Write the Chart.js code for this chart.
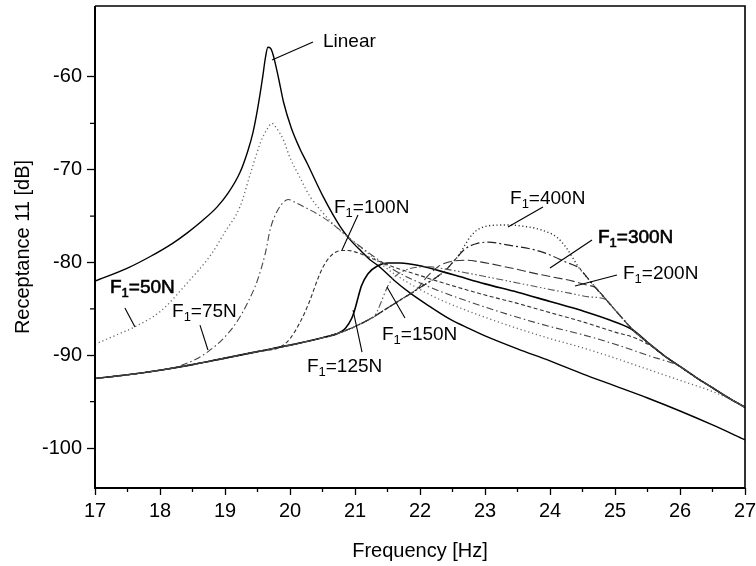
<!DOCTYPE html>
<html><head><meta charset="utf-8">
<script src="https://cdn.jsdelivr.net/npm/chart.js@4"></script>
<style>html,body{margin:0;padding:0;background:#fff}canvas{display:block}</style>
</head><body>
<canvas id="c" width="756" height="566"></canvas>
<script>
// ---- axis ticks ----
const xTicks = [17,18,19,20,21,22,23,24,25,26,27];
const xMinorTicks = [17.5,18.5,19.5,20.5,21.5,22.5,23.5,24.5,25.5,26.5];
const yTicks = [-100,-90,-80,-70,-60];
const yMinorTicks = [-95,-85,-75,-65];

// ---- shared lower (left) branch ----
const lbX = [17.0,17.5,18.0,18.5,19.0,19.5,20.0,20.5,20.75,21.0,21.25,21.5,21.75,22.0,22.25,22.35];
const lbY = [-92.5,-92.1,-91.6,-91.0,-90.3,-89.6,-88.9,-88.1,-87.6,-86.9,-86.0,-84.9,-83.8,-82.7,-81.6,-81.1];
// ---- shared right envelope ----
const reX = [24.45,24.57,24.7,24.85,25.0,25.15,25.28,25.5,25.75,26.0,26.25,26.5,26.75,27.0];
const reY = [-80.6,-81.6,-82.7,-83.9,-85.1,-86.3,-87.3,-88.6,-90.0,-91.2,-92.4,-93.5,-94.6,-95.6];

// ---- Linear ----
const linX = [17.0,17.5,17.85,18.2,18.42,18.65,18.88,19.05,19.23,19.35,19.43,19.5,19.58,19.62,19.66,19.7,19.74,19.82,19.9,20.02,20.15,20.26,20.51,20.77,20.92,21.1,21.23,21.35,21.6,21.85,22.1,22.46,22.75,23.0,23.5,24.0,24.5,25.0,25.5,26.0,26.5,27.0];
const linY = [-82.0,-80.6,-79.35,-77.9,-76.8,-75.5,-74.0,-72.5,-70.3,-68.0,-66.0,-63.5,-60.0,-58.0,-56.8,-56.9,-57.6,-60.0,-62.7,-65.5,-67.7,-69.25,-72.9,-76.1,-77.5,-78.8,-79.7,-80.3,-81.9,-83.3,-84.5,-86.1,-87.1,-87.9,-89.3,-90.6,-92.0,-93.3,-94.6,-96.0,-97.5,-99.1];

// ---- F1 = 50 N ----
const f50X = [17.0,17.3,17.62,18.0,18.42,18.8,19.0,19.23,19.4,19.55,19.65,19.72,19.8,19.9,20.0,20.15,20.3,20.5,20.7,20.88,21.2,21.6,22.0,22.31,23.0,23.5,24.0,24.46,25.0,25.5,26.0,26.5,26.82];
const f50Y = [-88.8,-87.9,-86.9,-85.3,-82.2,-79.0,-76.7,-74.0,-70.2,-67.0,-65.6,-65.0,-65.6,-66.8,-68.7,-70.8,-72.8,-74.6,-76.1,-77.2,-79.0,-81.2,-82.9,-84.0,-85.9,-87.1,-88.2,-89.1,-90.3,-91.5,-92.7,-93.9,-94.9];
// ---- F1 = 75 N ----
const f75X = [18.2,18.5,18.74,19.0,19.2,19.35,19.5,19.62,19.7,19.8,19.9,19.97,20.1,20.3,20.5,20.7,20.92,21.2,21.6,22.0,22.31,23.0,23.5,24.0,24.46,25.0,25.5,26.0];
const f75Y = [-91.35,-90.6,-89.6,-88.0,-86.2,-84.3,-81.9,-79.0,-76.3,-74.5,-73.5,-73.2,-73.6,-74.3,-75.1,-76.1,-77.4,-78.9,-80.8,-82.2,-83.1,-84.8,-85.9,-86.9,-87.7,-88.8,-90.0,-91.2];
// ---- F1 = 100 N ----
const f100X = [19.85,20.0,20.15,20.3,20.42,20.5,20.6,20.7,20.8,20.9,21.0,21.31,21.6,22.0,22.31,23.0,23.5,24.0,24.46,25.0,25.3,25.6];
const f100Y = [-89.1,-88.2,-86.5,-84.2,-81.9,-80.6,-79.5,-78.9,-78.7,-78.7,-78.85,-79.7,-80.5,-81.4,-82.1,-83.5,-84.4,-85.4,-86.3,-87.5,-88.1,-89.2];
// ---- F1 = 125 N ----
const f125X = [20.75,20.85,20.95,21.0,21.05,21.1,21.2,21.35,21.5,21.7,22.0,22.5,23.0,23.5,24.0,24.5,25.0,25.28];
const f125Y = [-87.6,-87.1,-86.0,-85.0,-83.7,-82.5,-81.2,-80.35,-80.05,-80.05,-80.35,-81.3,-82.3,-83.2,-84.2,-85.2,-86.4,-87.3];
// ---- F1 = 150 N ----
const f150X = [21.3,21.4,21.5,21.6,21.75,21.95,22.15,22.31,22.7,23.0,23.5,24.0,24.3,24.6,24.85];
const f150Y = [-85.8,-84.3,-82.6,-81.6,-80.9,-80.5,-80.45,-80.6,-81.1,-81.5,-82.2,-82.9,-83.3,-83.7,-83.95];
// ---- F1 = 200 N ----
const f200X = [21.95,22.1,22.2,22.31,22.5,22.7,22.9,23.34,23.85,24.35,24.55,24.7];
const f200Y = [-82.9,-81.6,-80.9,-80.3,-79.85,-79.75,-79.9,-80.5,-81.3,-82.0,-82.4,-82.7];
// ---- F1 = 300 N ----
const f300X = [22.3,22.4,22.5,22.6,22.7,22.85,23.05,23.34,23.85,24.26,24.45];
const f300Y = [-81.35,-80.8,-80.0,-79.2,-78.5,-78.0,-77.8,-78.1,-78.8,-80.0,-80.6];
// ---- F1 = 400 N ----
const f400X = [22.3,22.4,22.5,22.6,22.7,22.8,22.9,23.1,23.35,23.6,23.85,24.11,24.25,24.35,24.45];
const f400Y = [-81.35,-80.8,-80.0,-79.2,-78.0,-77.0,-76.4,-76.0,-75.95,-76.1,-76.45,-77.3,-78.4,-79.5,-80.6];

function pts(xs, ys){ return xs.map((x,i)=>({x:x, y:ys[i]})); }
function curve(ownX, ownY, useLB, useRE){
  let p = [];
  if (useLB) p = p.concat(pts(lbX,lbY).filter(q => q.x < ownX[0]-1e-9));
  p = p.concat(pts(ownX, ownY));
  if (useRE) p = p.concat(pts(reX,reY).filter(q => q.x > ownX[ownX.length-1]+1e-9));
  return p;
}
function ds(data, color, width, dash){
  return {data:data, showLine:true, borderColor:color, borderWidth:width, borderDash:dash,
    pointRadius:0, fill:false, cubicInterpolationMode:'monotone', borderCapStyle:'butt'};
}

const datasets = [
  ds(curve(f50X,f50Y,false,true), '#666', 1.3, [1.2,2.8]),
  ds(curve(f75X,f75Y,true,true), '#444', 1.1, [7,3,1.5,3]),
  ds(curve(f100X,f100Y,true,true), '#333', 1.1, [4,2.5]),
  ds(curve(f150X,f150Y,true,true), '#555', 1.1, [7,2.5,1.5,2.5,1.5,2.5]),
  ds(curve(f200X,f200Y,true,true), '#333', 1.1, [9,3.5]),
  ds(curve(f300X,f300Y,true,true), '#222', 1.2, [9,3,2,3]),
  ds(curve(f400X,f400Y,true,true), '#333', 1.4, [1.2,2.5]),
  ds(curve(f125X,f125Y,true,true), '#000', 1.6, []),
  ds(pts(linX,linY), '#000', 1.4, [])
];

const FONT = '"Liberation Sans", Arial, Helvetica, sans-serif';

const annotations = [
  {pre:'Linear', sub:'', post:'', at:[20.508,-56.23], line:[20.354,-56.23,19.723,-58.17]},
  {pre:'F', sub:'1', post:'=100N', at:[20.677,-74.12], line:[21.046,-74.88,20.80,-78.65]},
  {pre:'F', sub:'1', post:'=400N', at:[23.385,-73.15], line:[23.892,-74.02,23.354,-76.17]},
  {pre:'F', sub:'1', post:'=300N', at:[24.738,-77.36], line:[24.646,-77.57,24.0,-80.59], bold:true},
  {pre:'F', sub:'1', post:'=200N', at:[25.123,-81.24], line:[25.03,-81.35,24.385,-82.53]},
  {pre:'F', sub:'1', post:'=50N', at:[17.231,-82.75], line:[17.46,-84.9,17.615,-86.95], bold:true},
  {pre:'F', sub:'1', post:'=75N', at:[18.185,-85.34], line:[18.615,-86.74,18.738,-89.43]},
  {pre:'F', sub:'1', post:'=125N', at:[20.26,-91.27], line:[21.108,-89.65,20.97,-85.12]},
  {pre:'F', sub:'1', post:'=150N', at:[21.415,-87.82], line:[21.769,-85.98,21.492,-82.64]}
];

const decor = {
  id:'decor',
  afterDatasetsDraw(chart){
    const {ctx, chartArea:a, scales:{x,y}} = chart;
    ctx.save();
    ctx.strokeStyle = '#000';
    ctx.lineWidth = 1.6;
    ctx.beginPath();
    ctx.moveTo(a.left, a.top); ctx.lineTo(a.right, a.top); ctx.lineTo(a.right, a.bottom);
    ctx.stroke();
    ctx.lineWidth = 2;
    ctx.beginPath();
    ctx.moveTo(a.left, a.top); ctx.lineTo(a.left, a.bottom); ctx.lineTo(a.right, a.bottom);
    ctx.stroke();
    ctx.lineWidth = 1.3;
    ctx.beginPath();
    xMinorTicks.forEach(v => { const p = x.getPixelForValue(v); ctx.moveTo(p, a.bottom); ctx.lineTo(p, a.bottom+4); });
    yMinorTicks.forEach(v => { const p = y.getPixelForValue(v); ctx.moveTo(a.left, p); ctx.lineTo(a.left-5, p); });
    ctx.stroke();
    ctx.lineWidth = 1.1;
    annotations.forEach(an => {
      const l = an.line;
      ctx.beginPath();
      ctx.moveTo(x.getPixelForValue(l[0]), y.getPixelForValue(l[1]));
      ctx.lineTo(x.getPixelForValue(l[2]), y.getPixelForValue(l[3]));
      ctx.stroke();
      let px = x.getPixelForValue(an.at[0]);
      const py = y.getPixelForValue(an.at[1]);
      ctx.fillStyle = '#000';
      ctx.textBaseline = 'middle';
      ctx.textAlign = 'left';
      const parts = [[an.pre,19,0],[an.sub,13,5.5],[an.post,19,0]];
      parts.forEach(pt => {
        if (!pt[0]) return;
        ctx.font = pt[1]+'px '+FONT;
        ctx.fillText(pt[0], px, py+pt[2]);
        if (an.bold){ ctx.lineWidth = 0.6; ctx.strokeStyle='#000'; ctx.strokeText(pt[0], px, py+pt[2]); ctx.lineWidth=1.1; }
        px += ctx.measureText(pt[0]).width;
      });
    });
    ctx.restore();
  }
};

new Chart(document.getElementById('c'), {
  type:'scatter',
  data:{datasets:datasets},
  options:{
    responsive:false, animation:false,
    layout:{padding:{left:0,right:11,top:6,bottom:0}},
    plugins:{legend:{display:false}, tooltip:{enabled:false}},
    scales:{
      x:{type:'linear', min:17, max:27,
        afterBuildTicks(s){ s.ticks = xTicks.map(v=>({value:v})); },
        afterFit(s){ s.height = 78; s.paddingLeft = 0; s.paddingRight = 0; },
        ticks:{color:'#000', font:{family:FONT, size:20}, padding:4, maxRotation:0, autoSkip:false},
        grid:{drawOnChartArea:false, drawTicks:true, tickLength:7, tickColor:'#000', tickWidth:1.3},
        border:{display:false},
        title:{display:true, text:'Frequency [Hz]', color:'#000', font:{family:FONT, size:20}, padding:{top:0,bottom:3}}
      },
      y:{type:'linear', min:-104.3, max:-52.35,
        afterBuildTicks(s){ s.ticks = yTicks.map(v=>({value:v})); },
        afterFit(s){ s.width = 95; s.paddingTop = 0; s.paddingBottom = 0; },
        ticks:{color:'#000', font:{family:FONT, size:20}, padding:5, autoSkip:false},
        grid:{drawOnChartArea:false, drawTicks:true, tickLength:8, tickColor:'#000', tickWidth:1.3},
        border:{display:false},
        title:{display:true, text:'Receptance 11 [dB]', color:'#000', font:{family:FONT, size:20}, padding:{top:11,bottom:0}}
      }
    }
  },
  plugins:[decor]
});
</script>
</body></html>
